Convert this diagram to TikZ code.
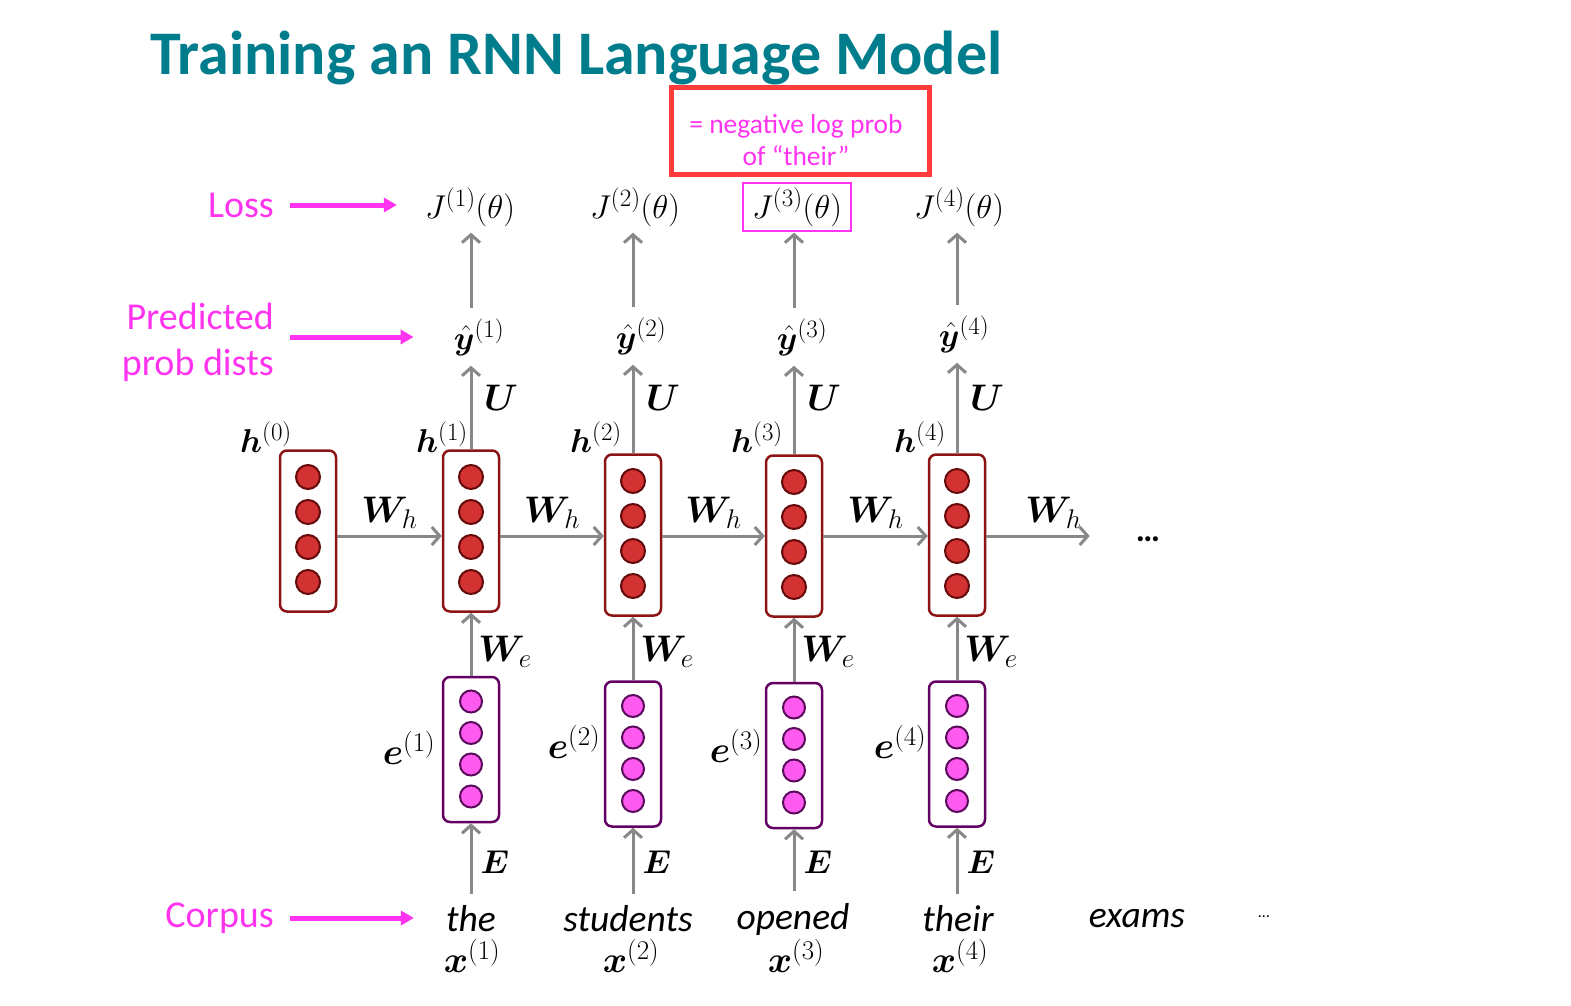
\RequirePackage{fix-cm}
\documentclass[tikz,border=0pt]{standalone}
\usepackage{amsmath,bm}
\usepackage[no-math]{fontspec}
\setmainfont{Carlito}
\DeclareMathSizes{34}{33}{25}{18}
\DeclareMathSizes{38}{37}{27}{20}
\usetikzlibrary{arrows.meta,fit}
\definecolor{titlec}{RGB}{0,125,140}
\definecolor{pinkc}{RGB}{255,51,240}
\definecolor{redbox}{RGB}{255,59,59}
\definecolor{grayc}{RGB}{136,136,136}
\definecolor{hborder}{RGB}{140,20,20}
\definecolor{hdotf}{RGB}{210,50,50}
\definecolor{hdotb}{RGB}{100,10,10}
\definecolor{eborder}{RGB}{100,0,100}
\definecolor{edotf}{RGB}{255,90,240}
\definecolor{edotb}{RGB}{90,10,90}
\tikzset{
  hbox/.style={draw=hborder, line width=2.5pt, rounded corners=7pt, minimum width=56pt, minimum height=161pt, inner sep=0pt, fill=white},
  ebox/.style={draw=eborder, line width=2.5pt, rounded corners=7pt, minimum width=56pt, minimum height=145pt, inner sep=0pt, fill=white},
  hdot/.style={circle, draw=hdotb, fill=hdotf, line width=2pt, minimum size=24pt, inner sep=0pt},
  edot/.style={circle, draw=edotb, fill=edotf, line width=2pt, minimum size=22pt, inner sep=0pt},
  garrow/.style={draw=grayc, line width=3pt, -{Straight Barb[length=8pt,width=18pt]}},
  parrow/.style={draw=pinkc, line width=5pt, -{Triangle[length=13pt,width=14pt]}},
  mlab/.style={inner sep=0pt, font=\fontsize{34}{40}\selectfont},
  xlab/.style={inner sep=0pt, font=\fontsize{38}{44}\selectfont},
  blab/.style={inner sep=0pt, font=\fontsize{38}{44}\selectfont},
  plab/.style={inner sep=0pt, text=pinkc, font=\fontsize{38}{46}\selectfont, align=right},
  word/.style={inner sep=0pt, font=\fontsize{37.5}{40}\selectfont\itshape},
}
\begin{document}
\begin{tikzpicture}[x=1pt,y=-1pt]
\useasboundingbox[fill=white] (0,0) rectangle (1571,1006);
% title
\node[anchor=base west, inner sep=0pt, text=titlec, font=\fontsize{62}{70}\selectfont\bfseries] (title) at (150,75) {Training an RNN Language Model};
\coordinate (hy) at (0,536);
% h0
\node[hbox] (h0) at (308,531) {};
\foreach \n/\dy in {a/-54,b/-19,c/16,d/51}
  \node[hdot] (h0\n) at (308,531+\dy) {};
\node[mlab, anchor=center] (hl0) at (266,437) {$\bm{h}^{(0)}$};
% columns
\foreach \i/\x/\hy/\ey/\hx/\elx/\ely/\yx/\yy/\jx/\xx/\wx in
  {1/471/531/749.5/442/409/748/479/337/470/472/471,
   2/633/535/754/596/574/742/641/336/635/631/628,
   3/794/536/755.5/757/736/746/802/337/797/796/793,
   4/957/535/754/920/900/742/964/334/959/960/958}{
  \node[hbox] (h\i) at (\x,\hy) {};
  \foreach \n/\dy in {a/-54,b/-19,c/16,d/51}
    \node[hdot] (h\i\n) at (\x,\hy+\dy) {};
  \node[ebox] (e\i) at (\x,\ey) {};
  \foreach \n/\dy in {a/-48,b/-16.5,c/15,d/47}
    \node[edot] (e\i\n) at (\x,\ey+\dy) {};
  \node[mlab] (hl\i) at (\hx,437) {$\bm{h}^{(\i)}$};
  \node[xlab] (el\i) at (\elx,\ely) {$\bm{e}^{(\i)}$};
  \node[mlab] (yh\i) at (\yx,\yy) {$\hat{\bm{y}}^{(\i)}$};
  \node[mlab] (J\i) at (\jx,207) {$J^{(\i)}(\theta)$};
  \node[word] (w\i) at (\wx,919) {\ifcase\i\or the\or students\or opened\or their\fi};
  \node[xlab] (xl\i) at (\xx,956) {$\bm{x}^{(\i)}$};
  \node[blab] (U\i) at (\x+30,398) {$\bm{U}$};
  \node[blab] (We\i) at (\x+34,652) {$\bm{W}_{e}$};
  \node[mlab] (E\i) at (\x+24,862) {$\bm{E}$};
  \draw[garrow, shorten <=12pt] (w\i.north -| e\i.south) -- (e\i.south);
  \draw[garrow] (e\i.north) -- (h\i.south);
  \draw[garrow, shorten >=10pt] (h\i.north) -- (h\i.north |- yh\i.south);
  \draw[garrow, shorten <=10pt, shorten >=6pt] (h\i.north |- yh\i.north) -- (h\i.north |- J\i.south);
}
\node[word] (w5) at (1137,919) {exams};
\node[inner sep=0pt, font=\fontsize{16}{18}\selectfont] (dots2) at (1264,917) {…};
\node[inner sep=0pt, font=\fontsize{34}{40}\selectfont\bfseries] (dots1) at (1148,539) {…};
% horizontal arrows
\foreach \a/\b in {0/1,1/2,2/3,3/4}{
  \draw[garrow] (h\a.east |- hy) -- (h\b.west |- hy)
    node[midway, anchor=south, yshift=6pt, blab] (Wh\a) {$\bm{W}_{h}$};
}
\draw[garrow, shorten >=46pt] (h4.east |- hy) -- (dots1.west |- hy)
  node[pos=0.45, anchor=south, yshift=6pt, blab] (Wh4) {$\bm{W}_{h}$};
% J3 highlight
\node[draw=pinkc, line width=2.5pt, fit=(J3), inner xsep=9pt, inner ysep=4.5pt] (J3box) {};
% red box
\node[draw=redbox, line width=5pt, minimum width=258pt, minimum height=87pt, inner sep=0pt] (note) at (800,131) {};
\node[align=center, text=pinkc, font=\fontsize{27.5}{32}\selectfont, inner sep=0pt] (notetext) at (796,140) {= negative log prob\\of “their”};
% pink labels
\node[plab, anchor=east] (loss) at (274,205) {Loss};
\node[plab, anchor=east] (pred) at (274,342) {Predicted\\prob dists};
\node[plab, anchor=east] (corp) at (274,918) {Corpus};
\draw[parrow, shorten <=16pt, shorten >=28pt] (loss.east) -- (loss.east -| J1.west);
\draw[parrow, shorten <=16pt, shorten >=40pt] (pred.east |- yh1) -- (yh1.west);
\draw[parrow, shorten <=16pt, shorten >=32pt] (corp.east) -- (corp.east -| w1.west);
\end{tikzpicture}
\end{document}
